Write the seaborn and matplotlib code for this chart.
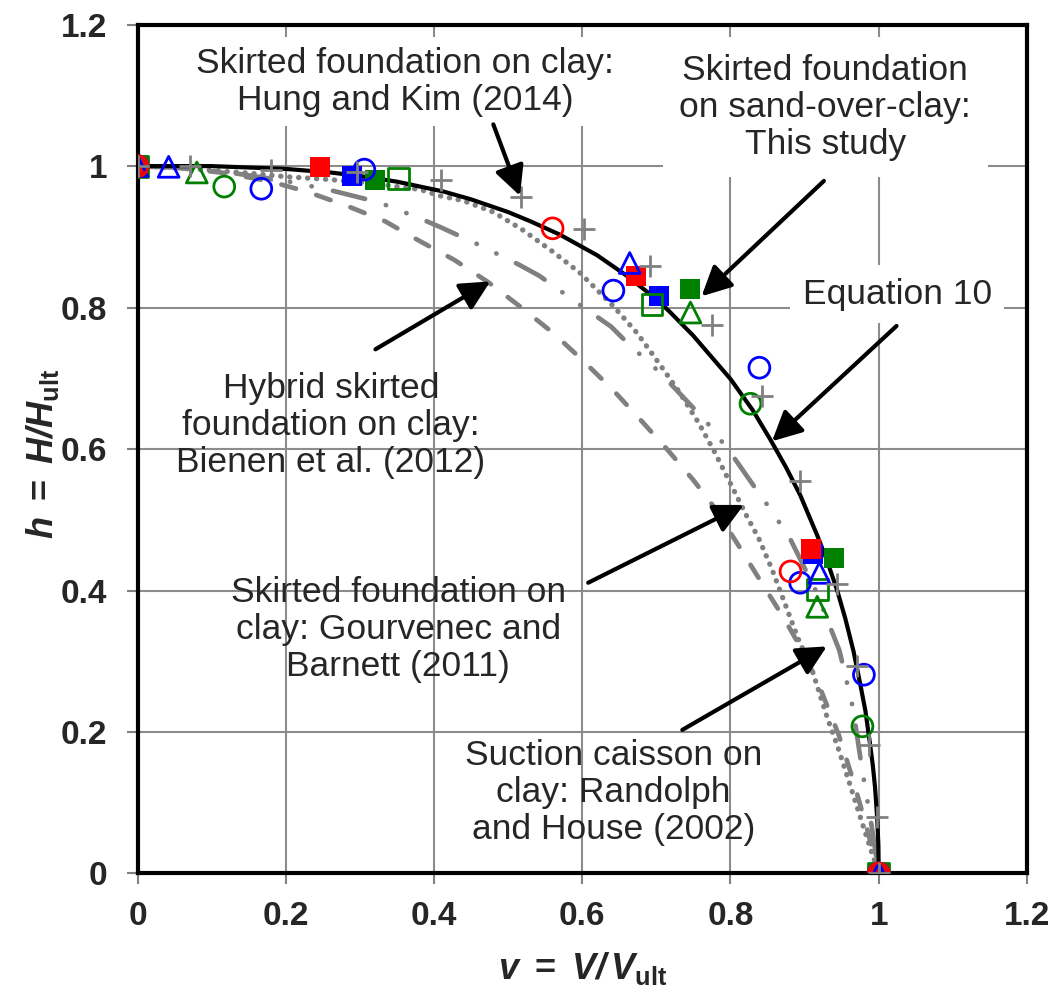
import matplotlib
matplotlib.use("Agg")
import matplotlib.pyplot as plt
import seaborn as sns

# ---------------------------------------------------------------
# Failure envelopes in normalised V-H space (v = V/Vult, h = H/Hult)
# ---------------------------------------------------------------
eq10_v = [0.0, 0.10, 0.20, 0.26, 0.30, 0.35, 0.413, 0.45, 0.50, 0.53, 0.57, 0.62,
          0.66, 0.70, 0.719, 0.75, 0.768, 0.80, 0.83, 0.854, 0.875, 0.894, 0.917,
          0.93, 0.944, 0.955, 0.966, 0.975, 0.982, 0.988, 0.992, 0.995, 0.998,
          0.9995, 1.0]
eq10_h = [1.0, 1.0, 0.996, 0.991, 0.986, 0.978, 0.964, 0.953, 0.935, 0.922, 0.903,
          0.874, 0.845, 0.812, 0.793, 0.760, 0.738, 0.699, 0.655, 0.613, 0.574,
          0.535, 0.478, 0.443, 0.400, 0.360, 0.314, 0.268, 0.230, 0.185, 0.153,
          0.122, 0.077, 0.040, 0.0]

# Gourvenec and Barnett (2011)
gb_v = [0.0, 0.05, 0.10, 0.15, 0.20, 0.26, 0.32, 0.381, 0.408, 0.44, 0.48, 0.518,
        0.559, 0.597, 0.642, 0.674, 0.703, 0.73, 0.757, 0.779, 0.802, 0.822, 0.838,
        0.856, 0.874, 0.892, 0.91, 0.93, 0.946, 0.962, 0.975, 0.988, 1.0]
gb_h = [1.0, 0.998, 0.994, 0.99, 0.985, 0.981, 0.975, 0.967, 0.958, 0.951, 0.935,
        0.911, 0.88, 0.849, 0.802, 0.764, 0.722, 0.682, 0.637, 0.595, 0.547, 0.505,
        0.474, 0.43, 0.38, 0.33, 0.288, 0.222, 0.175, 0.123, 0.08, 0.038, 0.0]

# Bienen et al. (2012)
bienen_v = [0.0, 0.06, 0.12, 0.18, 0.228, 0.282, 0.334, 0.379, 0.428, 0.473, 0.518,
            0.562, 0.602, 0.641, 0.678, 0.715, 0.75, 0.78, 0.813, 0.842, 0.872,
            0.897, 0.919, 0.946, 0.966, 0.985, 1.0]
bienen_h = [1.0, 0.997, 0.99, 0.978, 0.964, 0.944, 0.922, 0.895, 0.867, 0.836, 0.80,
            0.763, 0.724, 0.684, 0.642, 0.599, 0.556, 0.515, 0.46, 0.411, 0.361,
            0.315, 0.267, 0.196, 0.13, 0.06, 0.0]

# Randolph and House (2002)
rh_v = [0.0, 0.07, 0.13, 0.20, 0.26, 0.325, 0.379, 0.408, 0.462, 0.514, 0.542, 0.59,
        0.639, 0.662, 0.705, 0.768, 0.802, 0.838, 0.856, 0.881, 0.915, 0.947,
        0.965, 0.977, 0.99, 1.0]
rh_h = [1.0, 0.997, 0.99, 0.979, 0.966, 0.949, 0.927, 0.914, 0.888, 0.861, 0.845,
        0.809, 0.773, 0.749, 0.708, 0.638, 0.592, 0.538, 0.512, 0.472, 0.40, 0.315,
        0.235, 0.151, 0.07, 0.0]

# ---------------------------------------------------------------
# Measured / computed capacities
# ---------------------------------------------------------------
hk_v = [0.0, 0.071, 0.18, 0.296, 0.41, 0.518, 0.602, 0.691, 0.775, 0.842, 0.894,
        0.944, 0.971, 0.987, 0.997, 1.0]
hk_h = [1.0, 1.0, 0.994, 0.991, 0.981, 0.956, 0.911, 0.859, 0.775, 0.675, 0.555,
        0.409, 0.294, 0.182, 0.080, 0.0]

green_sq_v = [0.0, 0.321, 0.745, 0.940, 1.0]
green_sq_h = [1.0, 0.981, 0.826, 0.446, 0.0]
blue_sq_v = [0.0, 0.290, 0.704, 0.911, 1.0]
blue_sq_h = [1.0, 0.986, 0.816, 0.452, 0.0]
red_sq_v = [0.0, 0.246, 0.673, 0.909, 1.0]
red_sq_h = [1.0, 0.999, 0.845, 0.458, 0.0]
green_osq_v = [0.0, 0.352, 0.694, 0.917, 1.0]
green_osq_h = [1.0, 0.982, 0.804, 0.401, 0.0]
green_tri_v = [0.0, 0.080, 0.746, 0.917, 1.0]
green_tri_h = [1.0, 0.991, 0.793, 0.377, 0.0]
blue_tri_v = [0.0, 0.042, 0.664, 0.920, 1.0]
blue_tri_h = [1.0, 0.999, 0.863, 0.425, 0.0]
green_circ_v = [0.0, 0.117, 0.827, 0.978, 1.0]
green_circ_h = [1.0, 0.971, 0.664, 0.208, 0.0]
blue_circ_v = [0.0, 0.167, 0.306, 0.642, 0.839, 0.894, 0.980, 1.0]
blue_circ_h = [1.0, 0.968, 0.995, 0.824, 0.715, 0.411, 0.281, 0.0]
red_circ_v = [0.0, 0.560, 0.881, 1.0]
red_circ_h = [1.0, 0.912, 0.427, 0.0]

# axis ticks
tick_values = [0.0, 0.2, 0.4, 0.6, 0.8, 1.0, 1.2]
tick_labels = ["0", "0.2", "0.4", "0.6", "0.8", "1", "1.2"]

# callouts: text, text centre, arrow tail, arrow head, white background
callout_texts = [
    "Skirted foundation on clay:\nHung and Kim (2014)",
    "Skirted foundation\non sand-over-clay:\nThis study",
    "Equation 10",
    "Hybrid skirted\nfoundation on clay:\nBienen et al. (2012)",
    "Skirted foundation on\nclay: Gourvenec and\nBarnett (2011)",
    "Suction caisson on\nclay: Randolph\nand House (2002)",
]
callout_xy = [(0.361, 1.119), (0.928, 1.083), (1.025, 0.819),
              (0.261, 0.633), (0.352, 0.345), (0.642, 0.114)]
arrow_tail = [(0.480, 1.059), (0.926, 0.979), (1.024, 0.774),
              (0.321, 0.741), (0.608, 0.411), (0.735, 0.203)]
arrow_head = [(0.516, 0.958), (0.761, 0.816), (0.856, 0.611),
              (0.476, 0.837), (0.818, 0.521), (0.930, 0.321)]
callout_boxed = [True, True, True, False, False, False]
callout_pad = [7, 12, 9, 0, 0, 0]

# ---------------------------------------------------------------
sns.set_style("white")
plt.rcParams["font.family"] = ["Liberation Sans", "DejaVu Sans"]
plt.rcParams["mathtext.fontset"] = "custom"
plt.rcParams["mathtext.rm"] = "Liberation Sans"
plt.rcParams["mathtext.it"] = "Liberation Sans:italic"
plt.rcParams["mathtext.bf"] = "Liberation Sans:bold"
plt.rcParams["mathtext.bfit"] = "Liberation Sans:bold:italic"

fig = plt.figure(figsize=(10.57, 10.01), dpi=100)
ax = fig.add_axes([0.1301, 0.1274, 0.8415, 0.848])

grey = "#808080"

# envelopes
sns.lineplot(x=rh_v, y=rh_h, sort=False, estimator=None, ax=ax, color=grey,
             lw=3.4, linestyle=(0, (7.0, 4.6, 0.05, 4.6, 0.05, 4.6)),
             dash_capstyle="round", zorder=2)
sns.lineplot(x=bienen_v, y=bienen_h, sort=False, estimator=None, ax=ax, color=grey,
             lw=3.4, linestyle=(0, (3.2, 4.5)), dash_capstyle="round", zorder=2)
sns.lineplot(x=gb_v, y=gb_h, sort=False, estimator=None, ax=ax, color=grey,
             lw=3.8, linestyle=(0, (0.05, 1.65)), dash_capstyle="round", zorder=2)
sns.lineplot(x=eq10_v, y=eq10_h, sort=False, estimator=None, ax=ax, color="black",
             lw=3.0, zorder=3)

# data points
ms = 225
sns.scatterplot(x=green_sq_v, y=green_sq_h, marker="s", s=ms, color="green",
                edgecolor="green", linewidth=0, ax=ax, zorder=5)
sns.scatterplot(x=blue_sq_v, y=blue_sq_h, marker="s", s=ms, color="blue",
                edgecolor="blue", linewidth=0, ax=ax, zorder=5)
sns.scatterplot(x=red_sq_v, y=red_sq_h, marker="s", s=ms, color="red",
                edgecolor="red", linewidth=0, ax=ax, zorder=5)
for vv, hh, mk, col in [
    (green_osq_v, green_osq_h, "s", "green"),
    (green_tri_v, green_tri_h, "^", "green"),
    (blue_tri_v, blue_tri_h, "^", "blue"),
    (green_circ_v, green_circ_h, "o", "green"),
    (blue_circ_v, blue_circ_h, "o", "blue"),
    (red_circ_v, red_circ_h, "o", "red"),
]:
    sns.scatterplot(x=vv, y=hh, marker=mk, s=ms, facecolor="none", edgecolor=col,
                    linewidth=2.0, ax=ax, zorder=6)
sns.scatterplot(x=hk_v, y=hk_h, marker="+", s=260, color=grey, linewidth=2.0,
                ax=ax, zorder=7)

# axes
ax.set_xlim(0, 1.2)
ax.set_ylim(0, 1.2)
ax.set_xticks(tick_values)
ax.set_yticks(tick_values)
ax.set_xticklabels(tick_labels, fontsize=24, fontweight="bold")
ax.set_yticklabels(tick_labels, fontsize=24, fontweight="bold")
ax.tick_params(axis="both", direction="out", length=8, width=1.5, color=grey,
               bottom=True, left=True)
ax.tick_params(axis="x", pad=12)
ax.tick_params(axis="y", pad=14)
ax.grid(True, color="#8c8c8c", lw=1.5)
ax.set_axisbelow(True)
for sp in ax.spines.values():
    sp.set_color("black")
    sp.set_linewidth(3.0)

ax.set_xlabel(r"$\mathbfit{v}\ \mathbf{=}\ \mathbfit{V/\,V}_{\mathbf{ult}}$", fontsize=26)
ax.set_ylabel(r"$\mathbfit{h}\ \mathbf{=}\ \mathbfit{H/H}_{\mathbf{ult}}$", fontsize=26)
ax.xaxis.set_label_coords(0.5, -0.090)
ax.yaxis.set_label_coords(-0.086, 0.494)

# callouts
for txt, xy, tail, head, boxed, pad in zip(callout_texts, callout_xy, arrow_tail,
                                           arrow_head, callout_boxed, callout_pad):
    kw = {}
    if boxed:
        kw["bbox"] = dict(facecolor="white", edgecolor="none", pad=pad)
    ax.text(xy[0], xy[1], txt, fontsize=25.5, ha="center", va="center",
            multialignment="center", linespacing=1.15, zorder=8, **kw)
    ax.annotate("", xy=head, xytext=tail,
                arrowprops=dict(arrowstyle="-|>,head_length=0.5,head_width=0.25",
                                mutation_scale=36, lw=3.0, color="black",
                                shrinkA=0, shrinkB=0),
                zorder=9)

fig.savefig("out.png", dpi=100)
